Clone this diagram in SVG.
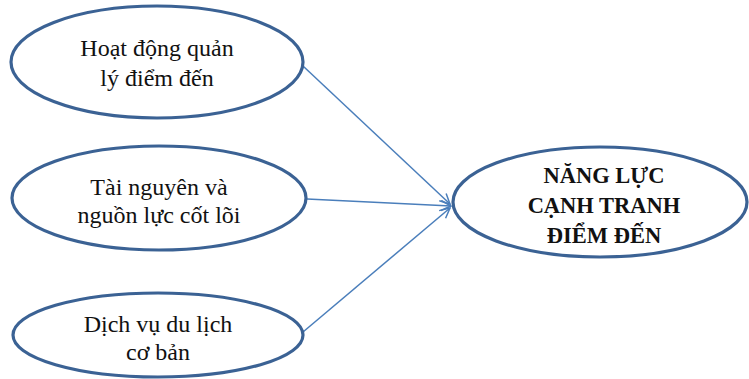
<svg xmlns="http://www.w3.org/2000/svg" width="749" height="379" viewBox="0 0 749 379">
<style>
.node ellipse{fill:#fff;stroke:#3b6294;stroke-width:3.2}
.t{font-family:'Liberation Serif','Times New Roman',serif;font-size:24px;fill:#111;text-anchor:middle}
.b{font-family:'Liberation Serif','Times New Roman',serif;font-size:22.5px;font-weight:bold;fill:#111;text-anchor:middle}
.conn line{stroke:#4a7ebb;stroke-width:1.5;fill:none}
</style>
<defs>
<marker id="arr" viewBox="0 0 12 12" refX="11" refY="6" markerWidth="12" markerHeight="12" markerUnits="userSpaceOnUse" orient="auto">
<path d="M1,1 L11,6 L1,11" fill="none" stroke="#4a7ebb" stroke-width="1.5"/>
</marker>
</defs>
<rect width="749" height="379" fill="#fff"/>
<g id="connectors" class="conn">
<line x1="303" y1="66" x2="450" y2="204" marker-end="url(#arr)"/>
<line x1="307" y1="199" x2="451" y2="206" marker-end="url(#arr)"/>
<line x1="303" y1="332" x2="450" y2="208" marker-end="url(#arr)"/>
</g>
<g id="n1" class="node">
<ellipse cx="157" cy="62" rx="146" ry="56"/>
<text class="t" x="157" y="56">Hoạt động quản</text>
<text class="t" x="157" y="86">lý điểm đến</text>
</g>
<g id="n2" class="node">
<ellipse cx="159" cy="198" rx="147" ry="52"/>
<text class="t" x="159" y="195">Tài  nguyên và</text>
<text class="t" x="159" y="223">nguồn lực cốt lõi</text>
</g>
<g id="n3" class="node">
<ellipse cx="158" cy="335" rx="145" ry="42"/>
<text class="t" x="158" y="332">Dịch vụ du lịch</text>
<text class="t" x="158" y="360">cơ bản</text>
</g>
<g id="n4" class="node">
<ellipse cx="600" cy="202" rx="147" ry="55"/>
<text class="b" x="604" y="183">NĂNG LỰC</text>
<text class="b" x="604" y="213">CẠNH TRANH</text>
<text class="b" x="604" y="243">ĐIỂM  ĐẾN</text>
</g>
</svg>
